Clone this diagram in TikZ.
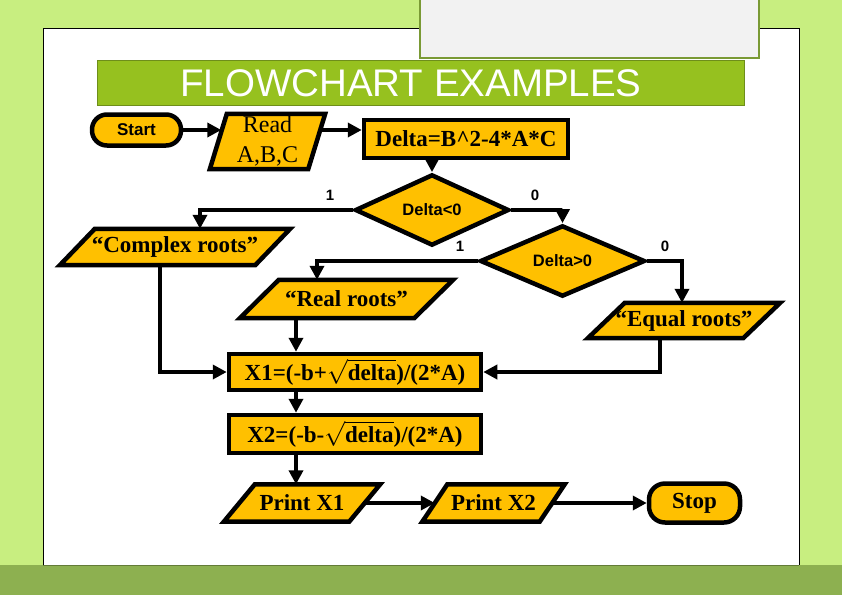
\documentclass[tikz,border=0pt]{standalone}
\usepackage{fontspec}
\setmainfont{Liberation Serif}
\setsansfont{Liberation Sans}
\usetikzlibrary{shapes.geometric,arrows.meta,backgrounds}
\definecolor{nodefill}{HTML}{FFC000}
\definecolor{bglight}{HTML}{C8EE80}
\definecolor{bgband}{HTML}{8DB050}
\definecolor{titlegreen}{HTML}{96C11F}
\definecolor{titleedge}{HTML}{6E8E1A}
\definecolor{grayfill}{HTML}{F2F2F2}
\definecolor{grayedge}{HTML}{7A9A35}
\newcommand\drawpara[2]{%
  \filldraw[parashape] ([xshift=-#2/2]#1.south west) -- ([xshift=-#2/2]#1.south east)
    -- ([xshift=#2/2]#1.north east) -- ([xshift=#2/2]#1.north west) -- cycle;}
\begin{document}
\begin{tikzpicture}[x=1pt,y=-1pt,
  sbold/.style={font=\bfseries\fontsize{23}{27}\selectfont},
  rbox/.style={draw=black, line width=4.5pt, fill=nodefill, inner sep=0pt, sbold},
  pill/.style={draw=black, line width=4.5pt, fill=nodefill, inner sep=0pt, rounded corners=15pt},
  dia/.style={diamond, draw=black, line width=4.5pt, fill=nodefill, inner sep=0pt,
    font=\sffamily\bfseries\fontsize{16.5}{19}\selectfont},
  ptext/.style={inner sep=0pt, sbold},
  parashape/.style={draw=black, line width=4.5pt, fill=nodefill},
  lbl/.style={font=\sffamily\bfseries\fontsize{15}{17}\selectfont, inner sep=0pt},
  arr/.style={line width=4.2pt, -{Triangle[length=14pt,width=14pt]}}
]
\useasboundingbox (0,0) rectangle (842,595);
\begin{scope}[on background layer]
  \fill[bglight] (0,0) rectangle (842,595);
  \fill[bgband] (0,565) rectangle (842,595);
  \fill[white] (43,28) rectangle (799,565);
  \draw[black, line width=1pt] (43,565) -- (43,28) -- (799,28) -- (799,565);
  \draw[bgband!70!black, line width=1pt] (43,565) -- (799,565);
\end{scope}
% gray box and title
\filldraw[fill=grayfill, draw=grayedge, line width=2pt] (420,-3) rectangle (759,58);
\node[fill=titlegreen, draw=titleedge, line width=1.5pt, minimum width=647, minimum height=45, inner sep=0pt] (title) at (421,83) {};
\node[text=white, font=\sffamily\fontsize{38.5}{40}\selectfont, inner sep=0pt] (ttext) at (411,83) {FLOWCHART EXAMPLES};

% nodes
\node[pill, minimum width=89, minimum height=31, rounded corners=15pt, font=\sffamily\bfseries\fontsize{17}{19}\selectfont] (start) at (136.5,130) {Start};
\node[inner sep=0pt, minimum width=98, minimum height=55, font=\fontsize{24}{30}\selectfont, align=center] (read) at (267.5,141.5) {Read\\A,B,C};
\node[rbox, minimum width=204, minimum height=38] (delta) at (466,139) {Delta=B\textasciicircum 2-4*A*C};
\node[dia, minimum width=154, minimum height=54] (d1) at (432,210) {Delta<0};
\node[dia, minimum width=165, minimum height=54] (d2) at (562.5,261) {Delta>0};
\node[ptext, minimum width=195, minimum height=36] (cr) at (175,247) {“Complex roots”};
\node[ptext, minimum width=174, minimum height=38] (rr) at (346.5,299) {“Real roots”};
\node[ptext, minimum width=155, minimum height=35] (er) at (684,320.5) {“Equal roots”};
\node[rbox, minimum width=252, minimum height=36] (x1) at (355,372) {X1=(-b+$\sqrt{\hbox{delta}}$)/(2*A)};
\node[rbox, minimum width=252, minimum height=38] (x2) at (355,434) {X2=(-b-$\sqrt{\hbox{delta}}$)/(2*A)};
\node[ptext, minimum width=125, minimum height=37] (p1) at (302,503) {Print X1};
\node[ptext, minimum width=117, minimum height=37] (p2) at (493.5,503) {Print X2};
\node[pill, minimum width=91, minimum height=39, rounded corners=16pt, sbold] (stop) at (694.5,503) {Stop};

\begin{scope}[on background layer]
  \drawpara{read}{17}
  \drawpara{cr}{35}
  \drawpara{rr}{39}
  \drawpara{er}{37}
  \drawpara{p1}{31}
  \drawpara{p2}{25}
\end{scope}

% labels
\node[lbl] (l1) at (330,195) {1};
\node[lbl] (l2) at (535,195) {0};
\node[lbl] (l3) at (460,246) {1};
\node[lbl] (l4) at (665,246) {0};

% connectors
\draw[arr] (start.east) -- ([xshift=3pt]start.east -| read.west);
\draw[arr] ([xshift=3.5pt]read.east |- start.east) -- (delta.west |- start.east);
\draw[arr] (delta.south -| d1.north) -- (d1.north);
\draw[arr] (d1.west) -| ([xshift=25pt]cr.north);
\draw[arr] (d1.east) -| (d2.north);
\draw[arr] (d2.west) -| ([xshift=-29.5pt]rr.north);
\draw[arr] (d2.east) -| ([xshift=-2pt]er.north);
\draw[arr] ([xshift=-15pt]cr.south) |- (x1.west);
\draw[arr] ([xshift=-24pt]er.south) |- (x1.east);
\draw[arr] ([xshift=-59pt]x1.north |- rr.south) -- ([xshift=-59pt]x1.north);
\draw[arr] ([xshift=-59pt]x1.south) -- ([xshift=-59pt]x2.north);
\draw[arr] ([xshift=-59pt]x2.south) -- ([xshift=-59pt]x2.south |- p1.north);
\draw[arr] (p1.east) -- (p2.west);
\draw[arr] (p2.east) -- (stop.west);
\end{tikzpicture}
\end{document}
